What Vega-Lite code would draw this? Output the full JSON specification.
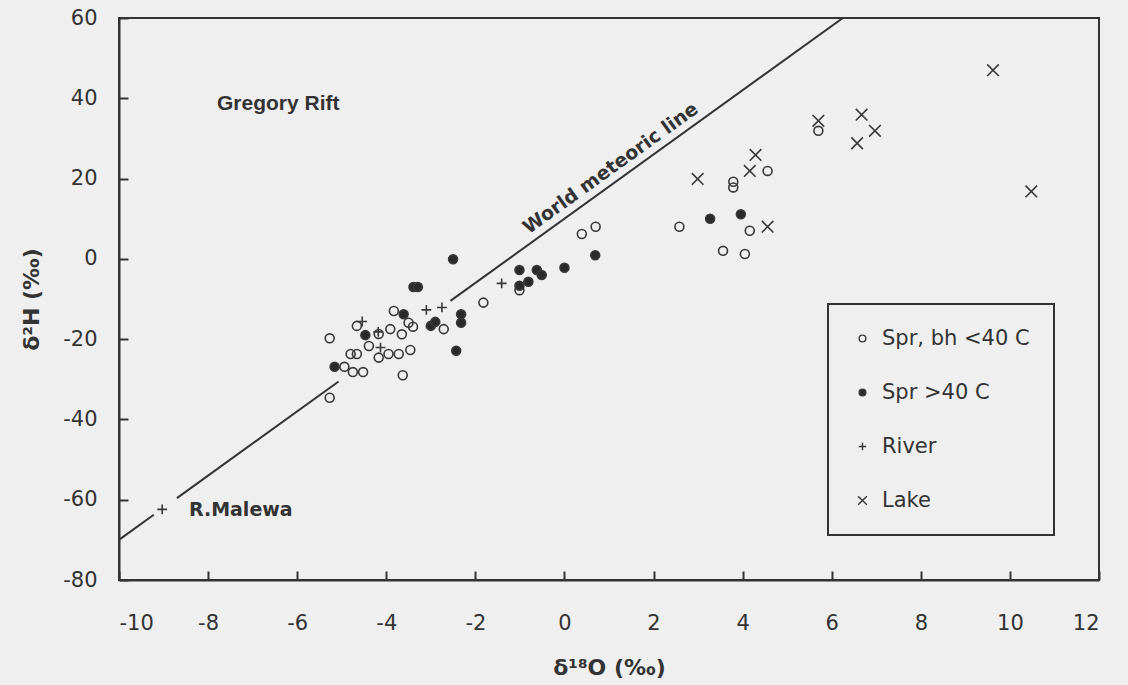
{
  "$schema": "https://vega.github.io/schema/vega-lite/v6.json",
  "width": 980,
  "height": 562,
  "autosize": {"type": "none"},
  "padding": {"left": 119, "top": 18, "right": 29, "bottom": 105},
  "background": "#efefef",
  "config": {
    "view": {"stroke": "#333333", "strokeWidth": 2},
    "axis": {
      "grid": false,
      "domainColor": "#333333",
      "domainWidth": 2,
      "tickColor": "#333333",
      "tickWidth": 2,
      "labelFont": "DejaVu Sans",
      "labelFontSize": 21,
      "labelColor": "#333333",
      "titleFont": "DejaVu Sans",
      "titleFontWeight": "bold",
      "titleFontSize": 22,
      "titleColor": "#333333"
    },
    "legend": {"strokeWidth": 2}
  },
  "datasets": {
    "pts": [
      {"x": -5.27, "y": -19.8, "type": "Spr, bh <40 C"},
      {"x": -5.27, "y": -34.6, "type": "Spr, bh <40 C"},
      {"x": -4.94, "y": -26.9, "type": "Spr, bh <40 C"},
      {"x": -4.75, "y": -28.2, "type": "Spr, bh <40 C"},
      {"x": -4.52, "y": -28.2, "type": "Spr, bh <40 C"},
      {"x": -4.80, "y": -23.7, "type": "Spr, bh <40 C"},
      {"x": -4.66, "y": -23.7, "type": "Spr, bh <40 C"},
      {"x": -4.39, "y": -21.7, "type": "Spr, bh <40 C"},
      {"x": -4.66, "y": -16.7, "type": "Spr, bh <40 C"},
      {"x": -4.17, "y": -18.7, "type": "Spr, bh <40 C"},
      {"x": -3.91, "y": -17.5, "type": "Spr, bh <40 C"},
      {"x": -4.17, "y": -24.6, "type": "Spr, bh <40 C"},
      {"x": -3.95, "y": -23.7, "type": "Spr, bh <40 C"},
      {"x": -3.72, "y": -23.7, "type": "Spr, bh <40 C"},
      {"x": -3.46, "y": -22.7, "type": "Spr, bh <40 C"},
      {"x": -3.63, "y": -29.0, "type": "Spr, bh <40 C"},
      {"x": -3.83, "y": -13.0, "type": "Spr, bh <40 C"},
      {"x": -3.50, "y": -15.9, "type": "Spr, bh <40 C"},
      {"x": -3.40, "y": -16.9, "type": "Spr, bh <40 C"},
      {"x": -3.65, "y": -18.8, "type": "Spr, bh <40 C"},
      {"x": -2.71, "y": -17.5, "type": "Spr, bh <40 C"},
      {"x": -1.82, "y": -10.9, "type": "Spr, bh <40 C"},
      {"x": -1.01, "y": -7.8, "type": "Spr, bh <40 C"},
      {"x": 0.39, "y": 6.2, "type": "Spr, bh <40 C"},
      {"x": 0.70, "y": 8.0, "type": "Spr, bh <40 C"},
      {"x": 2.58, "y": 8.0, "type": "Spr, bh <40 C"},
      {"x": 4.16, "y": 7.0, "type": "Spr, bh <40 C"},
      {"x": 3.56, "y": 2.0, "type": "Spr, bh <40 C"},
      {"x": 4.05, "y": 1.2, "type": "Spr, bh <40 C"},
      {"x": 3.79, "y": 19.2, "type": "Spr, bh <40 C"},
      {"x": 3.79, "y": 17.8, "type": "Spr, bh <40 C"},
      {"x": 4.56, "y": 21.9, "type": "Spr, bh <40 C"},
      {"x": 5.70, "y": 31.9, "type": "Spr, bh <40 C"},
      {"x": -5.16, "y": -26.9, "type": "Spr >40 C"},
      {"x": -4.47, "y": -19.0, "type": "Spr >40 C"},
      {"x": -3.61, "y": -13.8, "type": "Spr >40 C"},
      {"x": -3.39, "y": -7.0, "type": "Spr >40 C"},
      {"x": -3.29, "y": -7.0, "type": "Spr >40 C"},
      {"x": -2.50, "y": -0.1, "type": "Spr >40 C"},
      {"x": -3.00, "y": -16.7, "type": "Spr >40 C"},
      {"x": -2.90, "y": -15.7, "type": "Spr >40 C"},
      {"x": -2.32, "y": -13.8, "type": "Spr >40 C"},
      {"x": -2.32, "y": -15.9, "type": "Spr >40 C"},
      {"x": -2.43, "y": -22.9, "type": "Spr >40 C"},
      {"x": -1.01, "y": -2.8, "type": "Spr >40 C"},
      {"x": -1.01, "y": -6.7, "type": "Spr >40 C"},
      {"x": -0.81, "y": -5.7, "type": "Spr >40 C"},
      {"x": -0.62, "y": -2.8, "type": "Spr >40 C"},
      {"x": -0.51, "y": -4.0, "type": "Spr >40 C"},
      {"x": 0.0, "y": -2.2, "type": "Spr >40 C"},
      {"x": 0.69, "y": 0.9, "type": "Spr >40 C"},
      {"x": 3.27, "y": 10.0, "type": "Spr >40 C"},
      {"x": 3.96, "y": 11.1, "type": "Spr >40 C"},
      {"x": -9.03, "y": -62.4, "type": "River"},
      {"x": -4.54, "y": -15.6, "type": "River"},
      {"x": -4.18, "y": -18.2, "type": "River"},
      {"x": -4.13, "y": -22.1, "type": "River"},
      {"x": -3.10, "y": -12.7, "type": "River"},
      {"x": -2.75, "y": -12.1, "type": "River"},
      {"x": -1.41, "y": -6.1, "type": "River"},
      {"x": 2.99, "y": 19.9, "type": "Lake"},
      {"x": 4.29, "y": 25.9, "type": "Lake"},
      {"x": 4.16, "y": 21.9, "type": "Lake"},
      {"x": 4.56, "y": 8.0, "type": "Lake"},
      {"x": 5.70, "y": 34.4, "type": "Lake"},
      {"x": 6.67, "y": 35.9, "type": "Lake"},
      {"x": 6.97, "y": 31.9, "type": "Lake"},
      {"x": 6.57, "y": 28.8, "type": "Lake"},
      {"x": 9.62, "y": 47.0, "type": "Lake"},
      {"x": 10.48, "y": 16.8, "type": "Lake"}
    ],
    "wml": [
      {"x": -10, "y": -70, "seg": "a"},
      {"x": -9.22, "y": -63.76, "seg": "a"},
      {"x": -8.70, "y": -59.6, "seg": "b"},
      {"x": -5.07, "y": -30.56, "seg": "b"},
      {"x": -2.56, "y": -10.48, "seg": "c"},
      {"x": 6.25, "y": 60, "seg": "c"}
    ]
  },
  "layer": [
    {
      "data": {"name": "wml"},
      "mark": {"type": "line", "stroke": "#333333", "strokeWidth": 2, "clip": true},
      "encoding": {
        "x": {"field": "x", "type": "quantitative", "scale": {"domain": [-10, 12], "nice": false, "zero": false},
              "axis": {"values": [-10, -8, -6, -4, -2, 0, 2, 4, 6, 8, 10, 12], "labelExpr": "'' + datum.value", "tickSize": -9, "title": "δ¹⁸O (‰)", "labelPadding": 41, "titleY": 87, "titleBaseline": "middle"}},
        "y": {"field": "y", "type": "quantitative", "scale": {"domain": [-80, 60], "nice": false, "zero": false},
              "axis": {"values": [-80, -60, -40, -20, 0, 20, 40, 60], "labelExpr": "'' + datum.value", "tickSize": -9, "title": "δ²H (‰)", "labelPadding": 31, "titleX": -88, "titleBaseline": "middle"}},
        "detail": {"field": "seg"}
      }
    },
    {
      "data": {"name": "pts"},
      "mark": {"type": "point", "filled": true, "strokeWidth": 1.6, "size": 80, "opacity": 1},
      "encoding": {
        "x": {"field": "x", "type": "quantitative"},
        "y": {"field": "y", "type": "quantitative"},
        "shape": {"field": "type", "type": "nominal",
          "scale": {"domain": ["Spr, bh <40 C", "Spr >40 C", "River", "Lake"],
                    "range": ["circle", "circle", "M-1.1,0H1.1M0,-1.1V1.1", "M-1.3,-1.3L1.3,1.3M-1.3,1.3L1.3,-1.3"]},
          "legend": {"title": null, "orient": "none", "legendX": 709, "legendY": 286, "strokeColor": "#333333",
                     "padding": 24, "rowPadding": 32, "symbolOffset": 0, "labelOffset": 9, "symbolSize": 45,
                     "labelFont": "DejaVu Sans", "labelFontSize": 21, "labelColor": "#333333",
                     "symbolStrokeWidth": 1.4}},
        "fill": {"field": "type", "type": "nominal",
          "scale": {"domain": ["Spr, bh <40 C", "Spr >40 C", "River", "Lake"],
                    "range": ["transparent", "#2a2a2a", "transparent", "transparent"]},
          "legend": {"title": null, "orient": "none", "legendX": 709, "legendY": 286, "strokeColor": "#333333",
                     "padding": 24, "rowPadding": 32, "symbolOffset": 0, "labelOffset": 9, "symbolSize": 45,
                     "labelFont": "DejaVu Sans", "labelFontSize": 21, "labelColor": "#333333",
                     "symbolStrokeWidth": 1.4}},
        "stroke": {"field": "type", "type": "nominal",
          "scale": {"domain": ["Spr, bh <40 C", "Spr >40 C", "River", "Lake"],
                    "range": ["#383838", "#383838", "#383838", "#383838"]},
          "legend": {"title": null, "orient": "none", "legendX": 709, "legendY": 286, "strokeColor": "#333333",
                     "padding": 24, "rowPadding": 32, "symbolOffset": 0, "labelOffset": 9, "symbolSize": 45,
                     "labelFont": "DejaVu Sans", "labelFontSize": 21, "labelColor": "#333333",
                     "symbolStrokeWidth": 1.4}}
      }
    },
    {
      "data": {"values": [{"x": 1.22, "y": 19.76, "label": "World meteoric line"}]},
      "mark": {"type": "text", "font": "DejaVu Sans", "fontWeight": "bold", "fontSize": 19, "fill": "#333333", "angle": -35.7, "align": "center", "baseline": "middle", "dy": -14},
      "encoding": {"x": {"field": "x", "type": "quantitative"}, "y": {"field": "y", "type": "quantitative"}, "text": {"field": "label"}}
    },
    {
      "data": {"values": [{"x": -7.8, "y": 38.6, "label": "Gregory Rift"}]},
      "mark": {"type": "text", "font": "Liberation Sans", "fontWeight": "bold", "fontSize": 21, "fill": "#333333", "align": "left", "baseline": "middle"},
      "encoding": {"x": {"field": "x", "type": "quantitative"}, "y": {"field": "y", "type": "quantitative"}, "text": {"field": "label"}}
    },
    {
      "data": {"values": [{"x": -8.43, "y": -62.6, "label": "R.Malewa"}]},
      "mark": {"type": "text", "font": "DejaVu Sans", "fontWeight": "bold", "fontSize": 19, "fill": "#333333", "align": "left", "baseline": "middle"},
      "encoding": {"x": {"field": "x", "type": "quantitative"}, "y": {"field": "y", "type": "quantitative"}, "text": {"field": "label"}}
    }
  ]
}
